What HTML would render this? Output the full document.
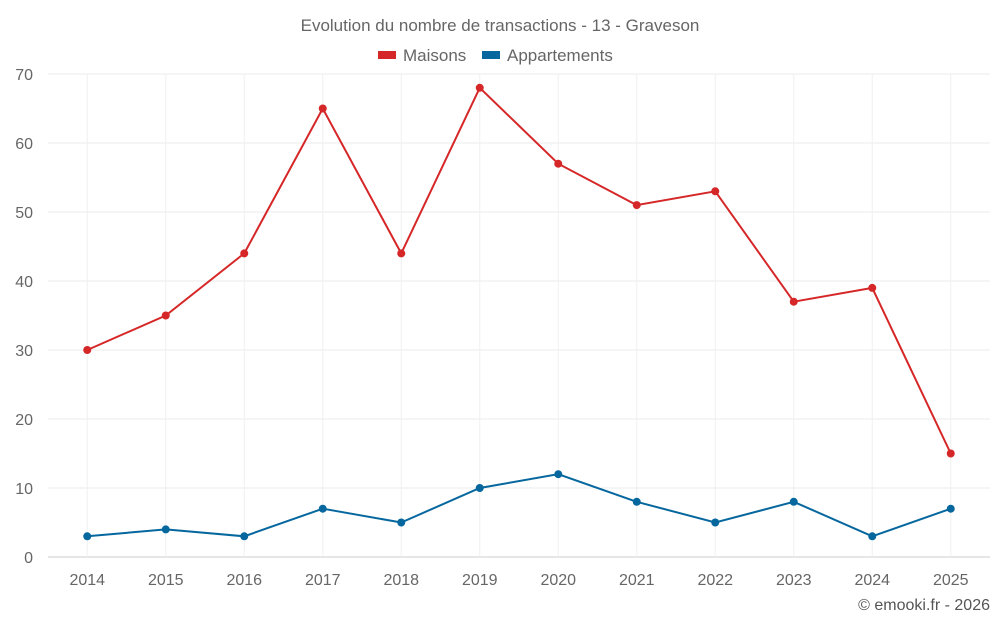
<!DOCTYPE html>
<html><head><meta charset="utf-8"><style>
body{margin:0;background:#fff;font-family:"Liberation Sans",sans-serif}
</style></head><body>
<svg id="chart" width="1000" height="625" xmlns="http://www.w3.org/2000/svg" font-family="Liberation Sans, sans-serif">
<text x="500" y="31" text-anchor="middle" font-size="17" fill="#666">Evolution du nombre de transactions - 13 - Graveson</text>
<g>
<g><rect x="378" y="51" width="18" height="8" fill="#d62728"/><text x="403" y="61" font-size="17" fill="#666">Maisons</text></g>
<g><rect x="482" y="51" width="18" height="8" fill="#05679e"/><text x="507" y="61" font-size="17" fill="#666">Appartements</text></g>
</g>
<g id="grid"></g>
<g id="axes"></g>
<g id="series"></g>
<text x="990" y="610" text-anchor="end" font-size="16" fill="#555">© emooki.fr - 2026</text>
</svg>
<script>
const categories=["2014","2015","2016","2017","2018","2019","2020","2021","2022","2023","2024","2025"];
const maisons=[30,35,44,65,44,68,57,51,53,37,39,15];
const appartements=[3,4,3,7,5,10,12,8,5,8,3,7];
const yTicks=[0,10,20,30,40,50,60,70];
const L=48,R=990,T=74,B=557,yMax=70;
const bw=(R-L)/categories.length;
const x=i=>L+bw*(i+0.5);
const y=v=>B-(v/yMax)*(B-T);
const NS="http://www.w3.org/2000/svg";
function mk(tag,attrs,parent){const e=document.createElementNS(NS,tag);for(const k in attrs)e.setAttribute(k,attrs[k]);parent.appendChild(e);return e;}
const grid=document.getElementById('grid'),axes=document.getElementById('axes'),series=document.getElementById('series');
yTicks.forEach(t=>{
 const g=mk('line',{x1:L,x2:R,y1:y(t),y2:y(t),stroke:t===0?'#ccc':'#ebebeb','stroke-width':1},grid);
 
 
 const tx=mk('text',{x:33,y:y(t)+6,'text-anchor':'end','font-size':16,fill:'#666'},axes);
 tx.textContent=t;
 
 
});
categories.forEach((c,i)=>{
 const g=mk('line',{x1:x(i),x2:x(i),y1:T,y2:B,stroke:'#f0f0f0','stroke-width':1},grid);
 
 
 const tx=mk('text',{x:x(i),y:585,'text-anchor':'middle','font-size':16,fill:'#666'},axes);
 tx.textContent=c;
 
 
});
function draw(data,color,name){
 const p=mk('polyline',{points:data.map((v,i)=>x(i)+','+y(v)).join(' '),fill:'none',stroke:color,'stroke-width':2},series);
 
 
 data.forEach((v,i)=>{
  const c=mk('circle',{cx:x(i),cy:y(v),r:4,fill:color},series);
  
  
 });
}
draw(maisons,'#d62728','maisons');
draw(appartements,'#05679e','appartements');
</script>
</body></html>
